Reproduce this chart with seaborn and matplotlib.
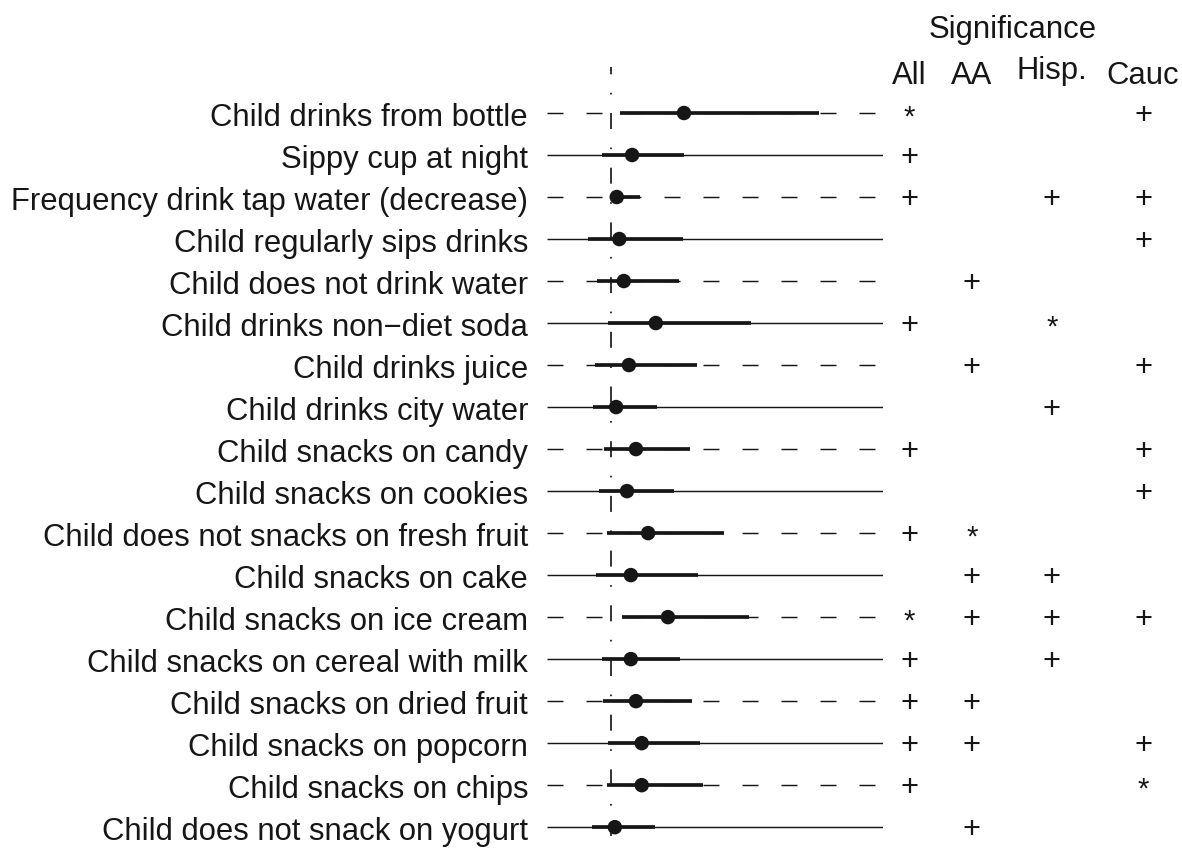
import numpy as np
import pandas as pd
import matplotlib
matplotlib.use("Agg")
import matplotlib.pyplot as plt
import matplotlib.transforms as mtransforms
import seaborn as sns

# ---- data -------------------------------------------------------------
items = [
    "Child drinks from bottle",
    "Sippy cup at night",
    "Frequency drink tap water (decrease)",
    "Child regularly sips drinks",
    "Child does not drink water",
    "Child drinks non\u2212diet soda",
    "Child drinks juice",
    "Child drinks city water",
    "Child snacks on candy",
    "Child snacks on cookies",
    "Child does not snacks on fresh fruit",
    "Child snacks on cake",
    "Child snacks on ice cream",
    "Child snacks on cereal with milk",
    "Child snacks on dried fruit",
    "Child snacks on popcorn",
    "Child snacks on chips",
    "Child does not snack on yogurt",
]
estimate = [2.14, 1.33, 1.09, 1.13, 1.20, 1.70, 1.28, 1.08, 1.39,
            1.25, 1.58, 1.31, 1.89, 1.31, 1.39, 1.48, 1.48, 1.06]
lower = [1.14, 0.86, 1.02, 0.64, 0.78, 0.95, 0.75, 0.72, 0.89,
         0.81, 0.94, 0.77, 1.17, 0.86, 0.88, 0.95, 0.94, 0.70]
upper = [4.25, 2.14, 1.45, 2.13, 2.06, 3.19, 2.34, 1.72, 2.23,
         1.98, 2.77, 2.36, 3.16, 2.08, 2.27, 2.39, 2.44, 1.69]

sig_columns = ["All", "AA", "Hisp.", "Cauc"]
sig_all = ["*", "+", "+", "", "", "+", "", "", "+", "", "+", "", "*", "+", "+", "+", "+", ""]
sig_aa = ["", "", "", "", "+", "", "+", "", "", "", "*", "+", "+", "", "+", "+", "", "+"]
sig_hisp = ["", "", "+", "", "", "*", "", "+", "", "", "", "+", "+", "+", "", "", "", ""]
sig_cauc = ["+", "", "+", "+", "", "", "+", "", "+", "+", "", "", "+", "", "", "+", "*", ""]

reference_value = 1.0
x_range = (0.0, 5.25)

df = pd.DataFrame({"item": items, "est": estimate, "lo": lower, "hi": upper})
df["pos"] = np.arange(len(df))

# ---- figure setup -------------------------------------------------------
W, H = 1182, 854
sns.set_theme(style="white")
plt.rcParams["font.family"] = ["Liberation Sans", "DejaVu Sans"]
plt.rcParams["lines.scale_dashes"] = False
FS = 22.3
INK = "#161616"

fig = plt.figure(figsize=(W / 100, H / 100), dpi=100)
ax_left, ax_right, ax_top, ax_bot = 547, 883, 68, 837
ax = fig.add_axes([ax_left / W, 1 - ax_bot / H,
                   (ax_right - ax_left) / W, (ax_bot - ax_top) / H])
ax.set_xlim(*x_range)
ax.set_ylim(17.21, -1.095)
for s in ax.spines.values():
    s.set_visible(False)

px = 72 / 100  # pixel -> point

# guide lines, alternating dashed / solid
for i, p in enumerate(df["pos"]):
    ln, = ax.plot(x_range, [p, p], color=INK, lw=1.45 * px, zorder=1)
    if i % 2 == 0:
        ln.set_linestyle((0, (16 * px, 23 * px)))
    ln.set_solid_capstyle("butt")
    ln.set_dash_capstyle("butt")

# reference line (dot-dash)
vl, = ax.plot([reference_value, reference_value], [1, 0],
              transform=ax.get_xaxis_transform(), color=INK, lw=1.7 * px, zorder=2)
vl.set_linestyle((8.7 * px, (16 * px, 18.5 * px, 1.7 * px, 18.5 * px)))
vl.set_dash_capstyle("butt")

# interval bars
ax.hlines(df["pos"], df["lo"], df["hi"], color=INK, lw=3.7 * px, zorder=3)

# point estimates
sns.scatterplot(data=df, x="est", y="pos", ax=ax, color=INK, s=(14.5 * px) ** 2,
                edgecolor="none", linewidth=0, zorder=4, legend=False)
ax.set_xlabel("")
ax.set_ylabel("")
ax.set_xlim(*x_range)
ax.set_ylim(17.21, -1.095)

ax.set_yticks(df["pos"], df["item"])
ax.tick_params(axis="y", length=0, pad=19 * px, labelsize=FS, labelcolor=INK)
ax.set_xticks([])

# significance table
col_x = [909, 972, 1052, 1143]
trans = mtransforms.blended_transform_factory(fig.transFigure, ax.transData)
for cx, marks in zip(col_x, [sig_all, sig_aa, sig_hisp, sig_cauc]):
    for p, m in zip(df["pos"], marks):
        if not m:
            continue
        if m == "*":
            ax.annotate(m, xy=(cx / W, p), xycoords=trans, xytext=(0, -3.5 * px),
                        textcoords="offset points", ha="center", va="center",
                        fontsize=FS * 0.95, color=INK, annotation_clip=False)
        else:
            ax.annotate(m, xy=(cx / W, p), xycoords=trans, xytext=(0, -1.5 * px),
                        textcoords="offset points", ha="center", va="center",
                        fontsize=FS, color=INK, annotation_clip=False)

header_y = [76, 76, 71, 76]
for cx, hy, name in zip(col_x, header_y, sig_columns):
    fig.text(cx / W, 1 - hy / H, name, ha="center", va="center", fontsize=FS, color=INK)
fig.text(1013 / W, 1 - 30 / H, "Significance", ha="center", va="center",
         fontsize=FS, color=INK)

fig.savefig("out.png", dpi=100, facecolor="white")
